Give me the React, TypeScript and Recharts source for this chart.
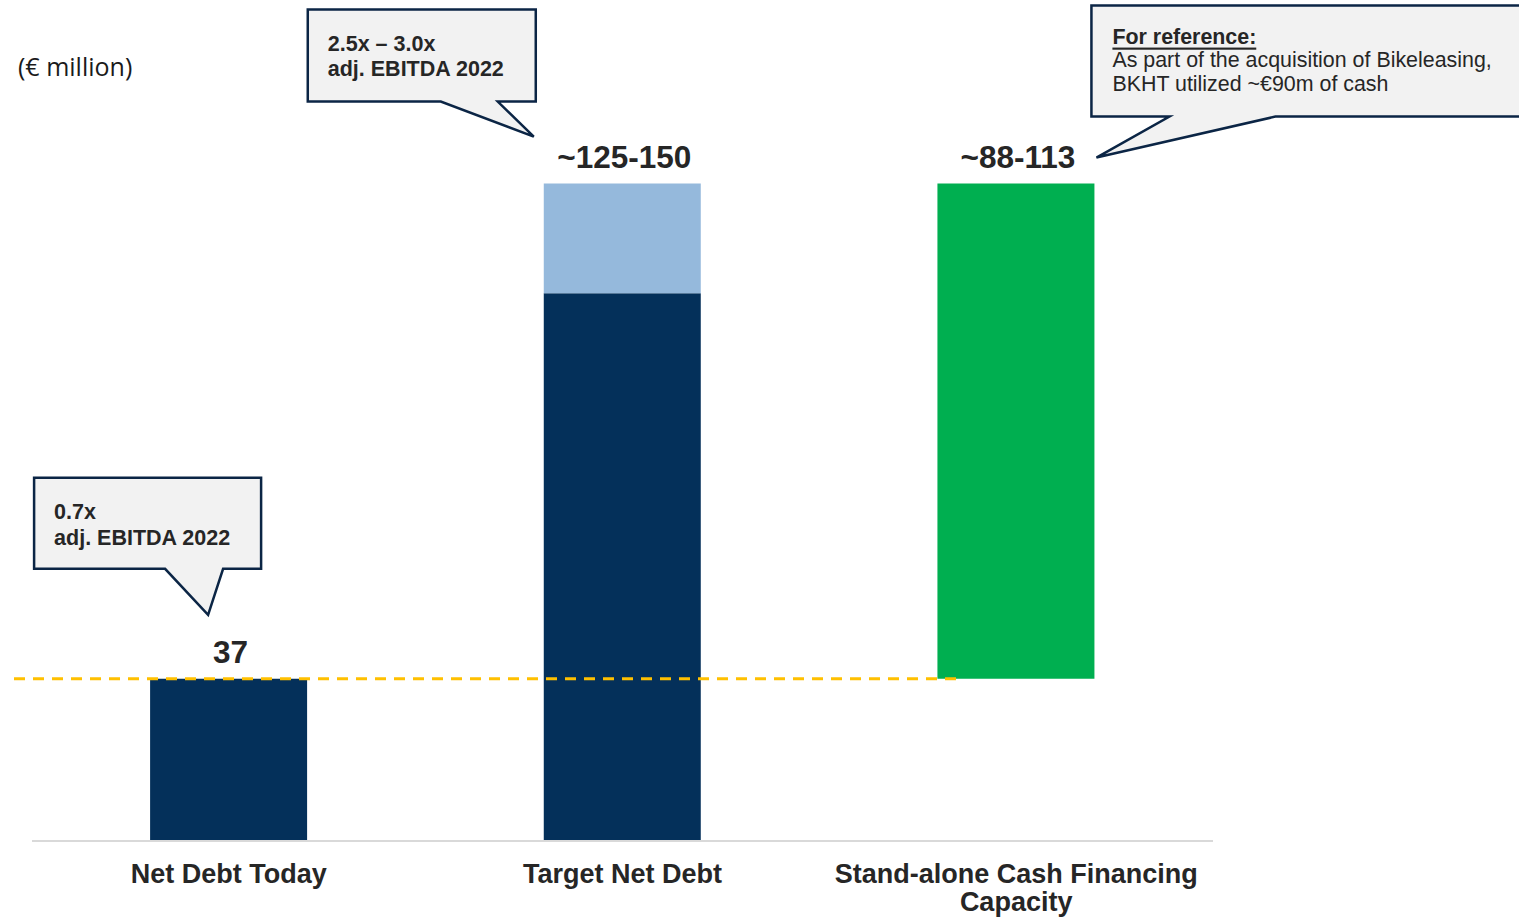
import { BarChart, Bar, XAxis, YAxis, LabelList, ReferenceLine } from "recharts";

const categories = ["Net Debt Today", "Target Net Debt", "Stand-alone Cash Financing Capacity"];
const tickLines = [["Net Debt Today"], ["Target Net Debt"], ["Stand-alone Cash Financing", "Capacity"]];
const offsetValues = [0, 0, 37];
const netDebtValues = [37, 125, 0];
const upsideValues = [0, 25, 0];
const capacityValues = [0, 0, 113];
const topLabels = ["37", "~125-150", "~88-113"];
const netDebtToday = 37;

const calloutLines = [
    ["0.7x", "adj. EBITDA 2022"],
    ["2.5x \u2013 3.0x", "adj. EBITDA 2022"],
    ["For reference:", "As part of the acquisition of Bikeleasing,", "BKHT utilized ~\u20ac90m of cash"],
];

const FONT = '"Liberation Sans", Arial, sans-serif';
const TEXT = "#262626";
const NAVY = "#0B2545";

const seriesKeys = ["netDebt", "upside", "capacity"];

const data = categories.map((name, i) => {
    const row: any = {
        name,
        offset: offsetValues[i],
        netDebt: netDebtValues[i],
        upside: upsideValues[i],
        capacity: capacityValues[i],
        label: topLabels[i],
        idx: i,
    };
    row.topKey = seriesKeys.filter((k) => row[k] > 0).pop();
    return row;
});

// callout placement relative to the top-left corner of the bar it points at
const calloutGeo = [
    { left: -116, right: 111, top: -201, bottom: -110, baseR: 73, tipX: 58, tipY: -64, baseL: 15, pad: 20, first: 34, step: 26, size: 21.5, bold: true },
    { left: -236, right: -8, top: -174, bottom: -82, baseR: -46, tipX: -10, tipY: -47, baseL: -103, pad: 20, first: 34, step: 25, size: 21.5, bold: true },
    { left: 154, right: 600, top: -178, bottom: -67, baseR: 338, tipX: 159, tipY: -26, baseL: 232, pad: 21, first: 31, step: 23.5, size: 21.4, bold: false },
];

function Callout({ x, y, index }: { x: number; y: number; index: number }) {
    const g = calloutGeo[index];
    const L = x + g.left;
    const R = x + g.right;
    const T = y + g.top;
    const B = y + g.bottom;
    const d = `M${L},${T} H${R} V${B} H${x + g.baseR} L${x + g.tipX},${y + g.tipY} L${x + g.baseL},${B} H${L} Z`;
    return (
        <g>
            <path d={d} fill="#F2F2F2" stroke={NAVY} strokeWidth={2.5} strokeLinejoin="miter" />
            {calloutLines[index].map((line, j) => (
                <text
                    key={j}
                    x={L + g.pad}
                    y={T + g.first + j * g.step}
                    dominantBaseline="central"
                    fontFamily={FONT}
                    fontSize={g.size}
                    fontWeight={g.bold || (index === 2 && j === 0) ? 700 : 400}
                    textDecoration={index === 2 && j === 0 ? "underline" : undefined}
                    fill={TEXT}
                >
                    {line}
                </text>
            ))}
        </g>
    );
}

const renderTop = (key: string) => (props: any) => {
    const row = data.find((r) => r.label === props.value);
    if (!row || row.topKey !== key) return null;
    const vb = props.viewBox ?? props;
    const x = Number(vb.x);
    const y = Number(vb.y);
    const w = Number(vb.width);
    return (
        <g>
            <text
                x={x + w / 2 + 2}
                y={y - 27}
                textAnchor="middle"
                dominantBaseline="central"
                fontFamily={FONT}
                fontSize={31.5}
                fontWeight={700}
                fill={TEXT}
            >
                {row.label}
            </text>
            <Callout x={x} y={y} index={row.idx} />
        </g>
    );
};

const CategoryTick = (props: any) => {
    const { x, y, payload } = props;
    const i = categories.indexOf(payload.value);
    const lines = tickLines[i] ?? [payload.value];
    return (
        <text
            x={x}
            y={y + 34}
            textAnchor="middle"
            fontFamily={FONT}
            fontSize={27}
            fontWeight={700}
            fill={TEXT}
        >
            {lines.map((line, j) => (
                <tspan key={j} x={x} dy={j === 0 ? 0 : 28}>
                    {line}
                </tspan>
            ))}
        </text>
    );
};

const DashedLevel = (props: any) => {
    const { x1, x2, y1 } = props;
    return (
        <line
            x1={x1 - 18}
            x2={x2 - 255}
            y1={y1}
            y2={y1}
            stroke="#FFC000"
            strokeWidth={3}
            strokeDasharray="11 8"
        />
    );
};

export default function App() {
    return (
        <div style={{ position: "absolute", left: 0, top: 0, width: 1519, height: 918, background: "#fff" }}>
            <div
                style={{
                    position: "absolute",
                    left: 18,
                    top: 52,
                    fontFamily: '"Open Sans", "Noto Sans", sans-serif',
                    fontSize: 25,
                    lineHeight: "28px",
                    color: "#1a1a1a",
                }}
            >
                (€ million)
            </div>
            <BarChart
                width={1519}
                height={918}
                data={data}
                margin={{ top: 74, right: 306, left: 32, bottom: 17 }}
                barCategoryGap="30%"
            >
                <XAxis
                    dataKey="name"
                    height={60}
                    tickLine={false}
                    axisLine={{ stroke: "#D9D9D9", strokeWidth: 2 }}
                    tick={<CategoryTick />}
                    interval={0}
                />
                <YAxis hide domain={[0, 175]} />
                <Bar dataKey="offset" stackId="a" fill="transparent" isAnimationActive={false} />
                <Bar dataKey="netDebt" stackId="a" fill="#04305A" isAnimationActive={false}>
                    <LabelList dataKey="label" content={renderTop("netDebt")} />
                </Bar>
                <Bar dataKey="upside" stackId="a" fill="#95B9DC" isAnimationActive={false}>
                    <LabelList dataKey="label" content={renderTop("upside")} />
                </Bar>
                <Bar dataKey="capacity" stackId="a" fill="#00AF50" isAnimationActive={false}>
                    <LabelList dataKey="label" content={renderTop("capacity")} />
                </Bar>
                <ReferenceLine y={netDebtToday} shape={<DashedLevel />} />
            </BarChart>
        </div>
    );
}
